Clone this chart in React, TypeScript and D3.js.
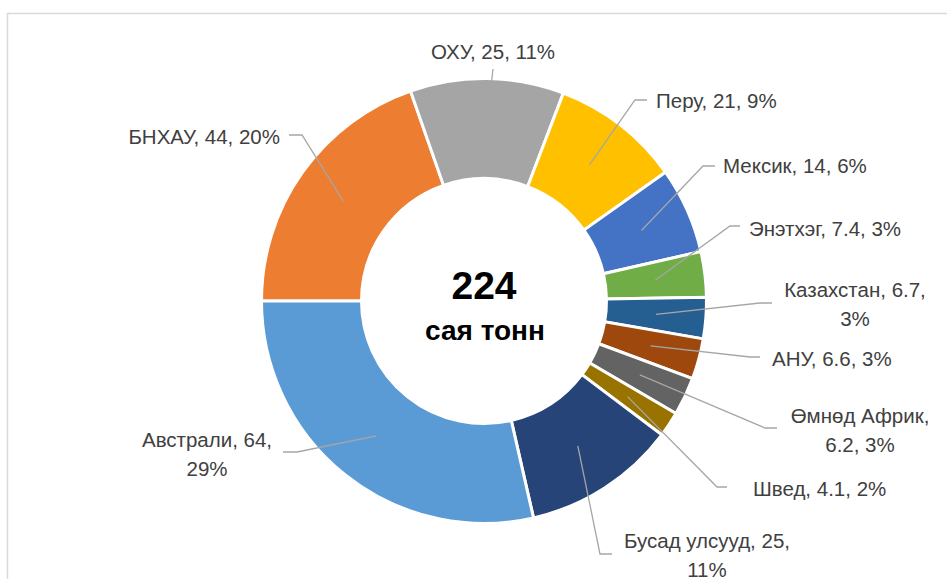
import React from 'react'
import * as d3 from 'd3'

// clockwise from 9 o'clock
const countries = ['БНХАУ', 'ОХУ', 'Перу', 'Мексик', 'Энэтхэг', 'Казахстан', 'АНУ', 'Өмнөд Африк', 'Швед', 'Бусад улсууд', 'Австрали']
const values = [44, 25, 21, 14, 7.4, 6.7, 6.6, 6.2, 4.1, 25, 64]
const colors = ['#ED7D31', '#A5A5A5', '#FFC000', '#4472C4', '#70AD47', '#255E91', '#9E480E', '#636363', '#997300', '#264478', '#5B9BD5']
const centerLines = ['224', 'сая тонн']

// label placement (excel "best fit" result), not data
// x,y = first baseline; wrap: where the label breaks; elbow = short horizontal leader piece [near slice x, far x, y]
const labelLayout = [
  { x: 280, y: 144, anchor: 'end', wrap: 'none', elbow: [302, 289, 135] },
  { x: 493, y: 59, anchor: 'middle', wrap: 'none', elbow: [493, 493, 69] },
  { x: 656, y: 108, anchor: 'start', wrap: 'none', elbow: [635, 647, 100] },
  { x: 723, y: 173, anchor: 'start', wrap: 'none', elbow: [703, 715, 166] },
  { x: 749, y: 236, anchor: 'start', wrap: 'none', elbow: [730, 740, 226] },
  { x: 855, y: 297, anchor: 'middle', wrap: 'value', elbow: [760, 772, 303] },
  { x: 772, y: 366, anchor: 'start', wrap: 'none', elbow: [750, 760, 357] },
  { x: 860, y: 423, anchor: 'middle', wrap: 'name', elbow: [765, 777, 428] },
  { x: 753, y: 496, anchor: 'start', wrap: 'none', elbow: [717, 727, 487] },
  { x: 707, y: 548, anchor: 'middle', wrap: 'value', elbow: [600, 612, 554] },
  { x: 207, y: 447, anchor: 'middle', wrap: 'value', elbow: [297, 283, 452] },
]

const width = 947
const height = 579
const cx = 484
const cy = 301
const outerR = 222.5
const innerR = 122.5
const font = '"Liberation Sans", Arial, sans-serif'

function labelLines(i: number, pct: string): string[] {
  const name = countries[i]
  const v = String(values[i])
  const wrap = labelLayout[i].wrap
  if (wrap === 'value') return [`${name}, ${v},`, pct]
  if (wrap === 'name') return [`${name},`, `${v}, ${pct}`]
  return [`${name}, ${v}, ${pct}`]
}

export default function App() {
  const total = d3.sum(values)
  const pie = d3.pie<number>()
    .sort(null)
    .startAngle(-Math.PI / 2)
    .endAngle(Math.PI * 1.5)
  const arcs = pie(values)

  const arc = d3.arc<d3.PieArcDatum<number>>()
    .innerRadius(innerR)
    .outerRadius(outerR)

  const mid = d3.arc<d3.PieArcDatum<number>>()
    .innerRadius((innerR + outerR) / 2)
    .outerRadius((innerR + outerR) / 2)

  const pct = d3.format('.0%')

  return (
    <svg width={width} height={height} style={{ position: 'absolute', left: 0, top: 0, background: '#fff' }}>
      <rect x={7.5} y={13.5} width={1200} height={1200} fill="none" stroke="#d9d9d9" strokeWidth={1.5} />
      <g transform={`translate(${cx},${cy})`}>
        {arcs.map((a, i) => (
          <path key={countries[i]} d={arc(a) || ''} fill={colors[i]} stroke="#fff" strokeWidth={3} />
        ))}
      </g>
      {arcs.map((a, i) => {
        const [mx, my] = mid.centroid(a)
        const l = labelLayout[i]
        const [x1, x2, ey] = l.elbow
        const pts: [number, number][] = [[cx + mx, cy + my], [x1, ey], [x2, ey]]
        return (
          <path key={'leader' + i} d={d3.line()(pts) || ''} fill="none" stroke="#a6a6a6" strokeWidth={1.3} />
        )
      })}
      {arcs.map((a, i) => {
        const l = labelLayout[i]
        const lines = labelLines(i, pct(values[i] / total))
        return (
          <text key={'lbl' + i} x={l.x} y={l.y} textAnchor={l.anchor as any} fontFamily={font} fontSize={20.5} fill="#404040">
            {lines.map((t, k) => (
              <tspan key={k} x={l.x} dy={k === 0 ? 0 : 28.5}>{t}</tspan>
            ))}
          </text>
        )
      })}
      <text x={cx} y={299} textAnchor="middle" fontFamily={font} fontWeight="bold" fontSize={39} fill="#000">{centerLines[0]}</text>
      <text x={cx + 1} y={340} textAnchor="middle" fontFamily={font} fontWeight="bold" fontSize={28} fill="#000">{centerLines[1]}</text>
    </svg>
  )
}
